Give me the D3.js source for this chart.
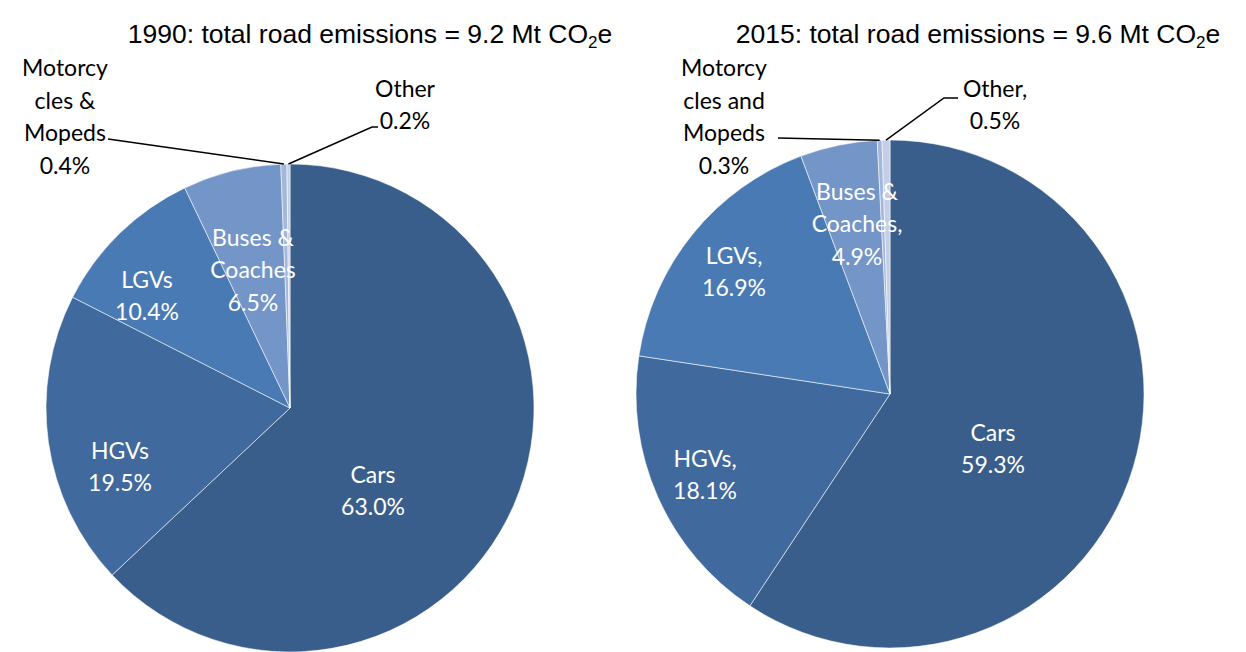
<!DOCTYPE html>
<html>
<head>
<meta charset="utf-8">
<script src="https://cdn.jsdelivr.net/npm/d3@7"></script>
<style>
  body { margin: 0; background: #fff; }
  svg { display: block; }
</style>
</head>
<body>
<div id="chart"></div>
<script>
// data (percent of total road emissions)
const categories = ["Cars", "HGVs", "LGVs", "Buses & Coaches", "Motorcycles & Mopeds", "Other"];
const values1990 = [63.0, 19.5, 10.4, 6.5, 0.4, 0.2];
const values2015 = [59.3, 18.1, 16.9, 4.9, 0.3, 0.5];
const names1990 = [["Cars"], ["HGVs"], ["LGVs"], ["Buses &", "Coaches"], ["Motorcy", "cles &", "Mopeds"], ["Other"]];
const names2015 = [["Cars"], ["HGVs,"], ["LGVs,"], ["Buses &", "Coaches,"], ["Motorcy", "cles and", "Mopeds"], ["Other,"]];
const years = ["1990", "2015"];
const totals = ["9.2", "9.6"];

const COLORS = ["#3a5e8b", "#40699d", "#4a7ab4", "#7495c7", "#a3b7da", "#c3cfe6"];

const W = 1246, H = 652;
const LABEL_FONT = "Lato, 'Open Sans', sans-serif";
const LH = 32.5;

// pie placement + where Excel put the labels (offsets from the pie centre)
const PIES = [
  {cx: 290, cy: 408, r: 244, titleX: 370,
   labels: [[83, 82], [-170, 58], [-143, -113], [-37, -139], [-225, -292], [115, -304]],
   leaders: [null, null, null, null, [[-182, -269]], [[82, -281], [88, -281]]]},
  {cx: 890, cy: 394, r: 254, titleX: 978,
   labels: [[103, 54], [-185, 80], [-156, -123], [-33, -171], [-166, -278], [105, -290]],
   leaders: [null, null, null, null, [[-112, -256]], [[54, -296], [68, -296]]]}
];

const svg = d3.select("#chart").append("svg")
  .attr("width", W)
  .attr("height", H);

const pie = d3.pie().sort(null).value(d => d);

function drawPie(i, values, names){
  const P = PIES[i];
  const g = svg.append("g").attr("transform", `translate(${P.cx},${P.cy})`);
  const arc = d3.arc().innerRadius(0).outerRadius(P.r);
  const arcs = pie(values);

  g.selectAll("path.slice")
    .data(arcs)
    .enter().append("path")
    .attr("class", "slice")
    .attr("d", arc)
    .attr("fill", (d, j) => COLORS[j])
    .attr("stroke", "rgba(255,255,255,0.55)")
    .attr("stroke-width", 1);

  // leader lines for the tiny slices
  const outer = d3.arc().innerRadius(P.r).outerRadius(P.r);
  arcs.forEach((d, j) => {
    if (!P.leaders[j]) return;
    const start = outer.centroid(d);
    const pts = [start].concat(P.leaders[j]);
    g.append("path")
      .attr("d", d3.line()(pts))
      .attr("fill", "none")
      .attr("stroke", "#000")
      .attr("stroke-width", 1.5);
  });

  arcs.forEach((d, j) => {
    const lines = names[j].concat([values[j].toFixed(1) + "%"]);
    const [ox, oy] = P.labels[j];
    const inside = j < 4;
    const t = g.append("text")
      .attr("text-anchor", "middle")
      .attr("font-family", LABEL_FONT)
      .attr("font-size", 23)
      .attr("fill", inside ? "#fff" : "#000");
    lines.forEach((s, k) => {
      t.append("tspan")
        .attr("x", ox)
        .attr("y", oy + (k - (lines.length - 1) / 2) * LH)
        .attr("dominant-baseline", "central")
        .text(s);
    });
  });

  // title with subscript 2
  const title = svg.append("text")
    .attr("x", P.titleX)
    .attr("y", 43)
    .attr("text-anchor", "middle")
    .attr("font-family", "'Liberation Sans', Arial, sans-serif")
    .attr("font-size", 26.5)
    .attr("fill", "#000");
  title.append("tspan").text(`${years[i]}: total road emissions = ${totals[i]} Mt CO`);
  title.append("tspan").attr("font-size", 17).attr("dy", 5).text("2");
  title.append("tspan").attr("dy", -5).text("e");
}

drawPie(0, values1990, names1990);
drawPie(1, values2015, names2015);
</script>
</body>
</html>
